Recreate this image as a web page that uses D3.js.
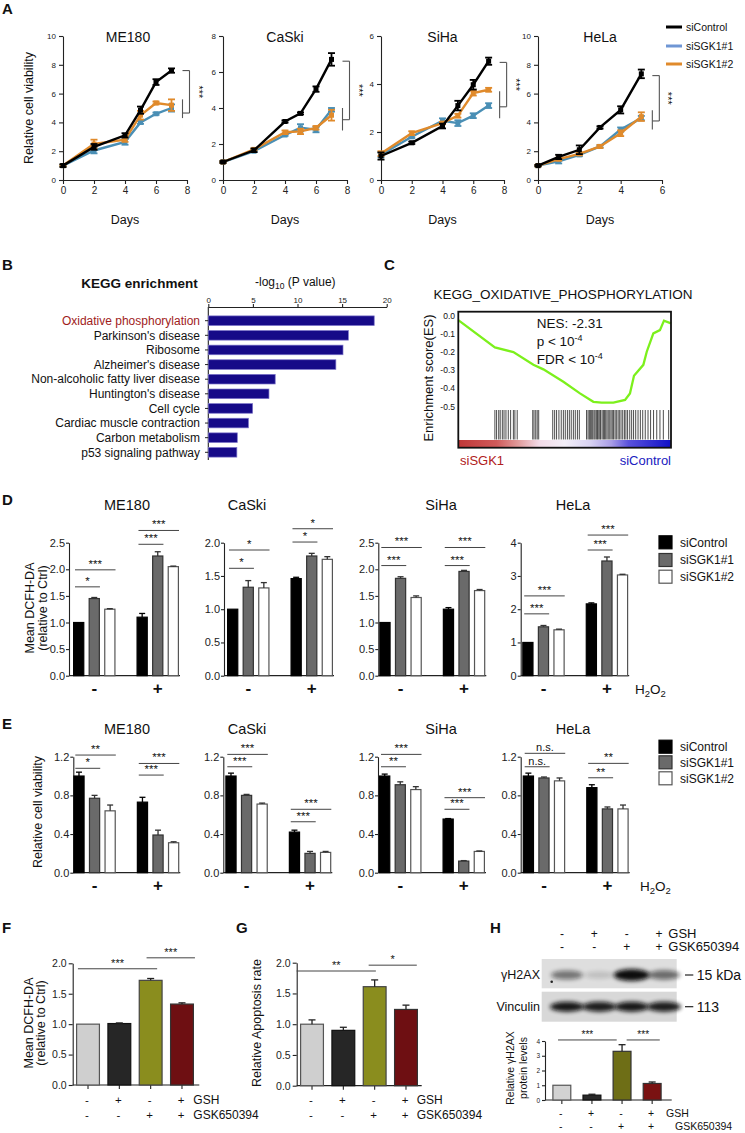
<!DOCTYPE html>
<html><head><meta charset="utf-8">
<script src="https://cdn.jsdelivr.net/npm/d3@7"></script>
<style>body{margin:0;background:#fff}svg{display:block}text{font-family:'Liberation Sans',Arial,Helvetica,sans-serif}</style>
</head><body><script>
// ================= DATA =================
// Panel A: growth curves (relative cell viability vs days)
const seriesNames=["siControl","siSGK1#1","siSGK1#2"];
const growthCells=["ME180","CaSki","SiHa","HeLa"];
const growthDays={ME180:[0,2,4,5,6,7],CaSki:[0,2,4,5,6,7],SiHa:[0,2,4,5,6,7],HeLa:[0,1,2,3,4,5]};
const growthCtrl={ME180:[1,2.3,3.1,4.85,6.8,7.6],CaSki:[1,1.65,3.25,3.7,5.05,6.7],SiHa:[1,1.55,2.25,3.1,3.97,4.95],HeLa:[1,1.6,2.1,3.65,4.87,7.37]};
const growthCtrlErr={ME180:[0.1,0.2,0.15,0.25,0.2,0.15],CaSki:[0.05,0.1,0.06,0.06,0.15,0.35],SiHa:[0.15,0.05,0.1,0.2,0.2,0.15],HeLa:[0.05,0.15,0.3,0.08,0.25,0.3]};
const growthS1={ME180:[1,2.05,2.65,4.0,4.6,5.0],CaSki:[1,1.6,2.5,2.9,2.8,3.9],SiHa:[1.05,1.8,2.47,2.37,2.68,3.1],HeLa:[1,1.3,1.75,2.33,3.5,4.3]};
const growthS1Err={ME180:[0.05,0.2,0.2,0.1,0.08,0.25],CaSki:[0.05,0.05,0.05,0.2,0.15,0.1],SiHa:[0.1,0.05,0.1,0.12,0.1,0.1],HeLa:[0.05,0.15,0.1,0.08,0.15,0.15]};
const growthS2={ME180:[1,2.5,2.8,4.5,5.35,5.2],CaSki:[1,1.7,2.65,2.7,2.9,3.6],SiHa:[1.1,1.95,2.37,2.68,3.62,3.76],HeLa:[1,1.45,1.82,2.33,3.25,4.4]};
const growthS2Err={ME180:[0.05,0.3,0.15,0.3,0.1,0.4],CaSki:[0.05,0.05,0.1,0.15,0.1,0.3],SiHa:[0.1,0.08,0.05,0.08,0.1,0.08],HeLa:[0.05,0.1,0.1,0.1,0.2,0.3]};
const growthXTicks={ME180:[0,2,4,6,8],CaSki:[0,2,4,6,8],SiHa:[0,2,4,6,8],HeLa:[0,2,4,6]};
const growthYTicks={ME180:[0,2,4,6,8,10],CaSki:[0,2,4,6,8],SiHa:[0,2,4,6],HeLa:[0,2,4,6,8,10]};
// significance brackets (value levels): outer [top,bottom], inner [top,bottom]
const growthBracket={ME180:{outer:[7.6,4.65],inner:[5.6,4.3]},CaSki:{outer:[6.6,3.35],inner:[4.0,2.75]},SiHa:{outer:[4.9,3.05],inner:[3.7,2.57]},HeLa:{outer:[7.25,4.1],inner:[4.85,3.5]}};

// Panel B: KEGG enrichment
const keggTerms=["Oxidative phosphorylation","Parkinson's disease","Ribosome","Alzheimer's disease","Non-alcoholic fatty liver disease","Huntington's disease","Cell cycle","Cardiac muscle contraction","Carbon metabolism","p53 signaling pathway"];
const keggLogP=[18.6,15.7,15.1,14.3,7.5,6.8,4.97,4.5,3.25,3.2];
const keggTicks=[0,5,10,15,20];

// Panel C: GSEA running enrichment score
const esRank=[0,0.172,0.259,0.353,0.4,0.494,0.572,0.635,0.674,0.729,0.784,0.807,0.826,0.87,0.886,0.917,0.948,0.967,1.0];
const esScore=[-0.024,-0.174,-0.2,-0.27,-0.295,-0.363,-0.427,-0.473,-0.478,-0.478,-0.463,-0.427,-0.33,-0.27,-0.198,-0.097,-0.079,-0.027,-0.042];
const esHits=[0.172,0.180,0.190,0.197,0.207,0.215,0.224,0.235,0.246,0.259,0.266,0.277,0.350,0.356,0.364,0.371,0.378,0.444,0.453,0.462,0.473,0.484,0.494,0.503,0.513,0.522,0.531,0.541,0.550,0.560,0.569,0.603,0.610,0.616,0.621,0.627,0.632,0.638,0.643,0.649,0.654,0.658,0.665,0.669,0.676,0.682,0.687,0.693,0.699,0.705,0.712,0.718,0.724,0.730,0.737,0.743,0.751,0.757,0.765,0.773,0.781,0.788,0.796,0.806,0.815,0.824,0.834,0.845,0.856,0.867,0.879,0.892,0.904,0.918,0.933,0.948,0.964,0.989];
const esTicks=[0,-0.1,-0.2,-0.3,-0.4,-0.5];

// Panel D: Mean DCFH-DA, [H2O2 -, H2O2 +] x [siControl, siSGK1#1, siSGK1#2]
const h2o2Groups=["-","+"];
const dcfhMean={ME180:[[1.00,1.45,1.25],[1.10,2.25,2.05]],CaSki:[[1.00,1.33,1.32],[1.46,1.80,1.75]],SiHa:[[1.00,1.83,1.47],[1.25,1.96,1.60]],HeLa:[[1.00,1.47,1.38],[2.16,3.45,3.03]]};
const dcfhErr={ME180:[[0,0.02,0.01],[0.07,0.08,0.01]],CaSki:[[0,0.10,0.08],[0.02,0.04,0.04]],SiHa:[[0,0.03,0.03],[0.03,0.02,0.02]],HeLa:[[0,0.04,0.02],[0.03,0.12,0.02]]};
const dcfhSig={ME180:[["-",1,1.67,"*"],["-",2,1.99,"***"],["+",1,2.47,"***"],["+",2,2.73,"***"]],CaSki:[["-",1,1.615,"*"],["-",2,1.89,"*"],["+",1,2.01,"*"],["+",2,2.21,"*"]],SiHa:[["-",1,2.07,"***"],["-",2,2.41,"***"],["+",1,2.07,"***"],["+",2,2.41,"***"]],HeLa:[["-",1,1.86,"***"],["-",2,2.40,"***"],["+",1,3.78,"***"],["+",2,4.23,"***"]]};
const dcfhYTicks={ME180:[0,0.5,1,1.5,2,2.5],CaSki:[0,0.5,1,1.5,2],SiHa:[0,0.5,1,1.5,2,2.5],HeLa:[0,1,2,3,4]};

// Panel E: relative cell viability
const viabMean={ME180:[[1.0,0.77,0.64],[0.73,0.39,0.31]],CaSki:[[1.0,0.80,0.71],[0.42,0.20,0.21]],SiHa:[[1.0,0.91,0.86],[0.555,0.12,0.22]],HeLa:[[1.0,0.98,0.95],[0.88,0.66,0.66]]};
const viabErr={ME180:[[0.04,0.03,0.06],[0.05,0.05,0.01]],CaSki:[[0.03,0.01,0.01],[0.02,0.02,0.01]],SiHa:[[0.02,0.03,0.03],[0.005,0.005,0.005]],HeLa:[[0.03,0.01,0.03],[0.03,0.02,0.04]]};
const viabSig={ME180:[["-",1,1.08,"*"],["-",2,1.217,"**"],["+",1,1.01,"***"],["+",2,1.13,"***"]],CaSki:[["-",1,1.096,"***"],["-",2,1.224,"***"],["+",1,0.527,"***"],["+",2,0.656,"***"]],SiHa:[["-",1,1.096,"**"],["-",2,1.224,"***"],["+",1,0.656,"***"],["+",2,0.776,"***"]],HeLa:[["-",1,1.096,"n.s."],["-",2,1.235,"n.s."],["+",1,0.982,"**"],["+",2,1.131,"**"]]};
const viabYTicks=[0,0.4,0.8,1.2];

// Panels F, G, H: GSH / GSK650394 treatments
const gshRow=["-","+","-","+"];
const gskRow=["-","-","+","+"];
const fDcfh=[1.0,1.01,1.72,1.33];
const fDcfhErr=[0,0.01,0.03,0.02];
const fSig=[[0,0.08,2,0.77,1.91,"***"],[2,0.33,3,1.04,2.09,"***"]];
const gApop=[1.0,0.9,1.61,1.24];
const gApopErr=[0.07,0.05,0.11,0.07];
const gSig=[[0,-0.14,2,0.55,1.865,"**"],[2,0.25,3,0.95,1.96,"*"]];
const hH2ax=[1.0,0.33,3.3,1.12];
const hH2axErr=[0,0.06,0.45,0.1];
const hSig=[[0,0.3,2,0.22,4.07,"***"],[2,0.74,3,0.9,4.07,"***"]];
const fgTicks=[0,0.5,1,1.5,2];
const hTicks=[0,1,2,3,4];
// western blot band intensities (relative darkness)
const blotH2ax=[0.5,0.15,1.0,0.55];
const blotVinc=[0.95,0.92,0.95,0.92];

// ================= DRAWING =================
const FONT="'Liberation Sans', Arial, Helvetica, sans-serif";
const svg=d3.select("body").append("svg").attr("width",745).attr("height",1133);
const defs=svg.append("defs");
const C_CTRL="#000",C_S1="#4a8fb5",C_S2="#e08a2b";

function txt(x,y,s,o={}){
  const t=svg.append("text").attr("x",x).attr("y",y).text(s)
    .attr("font-size",o.size||12).attr("fill",o.fill||"#111")
    .attr("text-anchor",o.anchor||"start").attr("font-family",FONT);
  if(o.weight)t.attr("font-weight",o.weight);
  if(o.rotate!=null)t.attr("transform",`rotate(${o.rotate},${x},${y})`);
  if(o.dy)t.attr("dy",o.dy);
  return t;
}
function axisStyle(g,fs){
  g.attr("font-size",fs).attr("font-family",FONT);
  g.selectAll(".domain,.tick line").attr("stroke","#222").attr("stroke-width",1.1);
  g.selectAll(".tick text").attr("fill","#222");
}
function line(x1,y1,x2,y2,c,w){
  return svg.append("line").attr("x1",x1).attr("y1",y1).attr("x2",x2).attr("y2",y2).attr("stroke",c||"#222").attr("stroke-width",w||1);
}

// Panel letters
[["A",2,14],["B",2,270],["C",384,270],["D",2,505],["E",2,729],["F",2,933],["G",236,933],["H",490,933]].forEach(d=>txt(d[1],d[2],d[0],{size:15,weight:"bold"}));

// ---------- Panel A ----------
const aLayout={ME180:[63,187,8,10],CaSki:[223,347,8,8],SiHa:[381,504,8,6],HeLa:[538,662,6,10]};
growthCells.forEach(cell=>{
  const [x0,x1,xMax,yMax]=aLayout[cell];
  const x=d3.scaleLinear().domain([0,xMax]).range([x0,x1]);
  const y=d3.scaleLinear().domain([0,yMax]).range([180,36]);
  const gx=svg.append("g").attr("transform","translate(0,180)")
    .call(d3.axisBottom(x).tickValues(growthXTicks[cell]).tickFormat(d3.format("d")).tickSize(4).tickSizeOuter(0).tickPadding(3));
  axisStyle(gx,10);
  const gy=svg.append("g").attr("transform",`translate(${x0},0)`)
    .call(d3.axisLeft(y).tickValues(growthYTicks[cell]).tickFormat(d3.format("d")).tickSize(4).tickSizeOuter(0).tickPadding(3));
  axisStyle(gy,8);
  const days=growthDays[cell];
  const series=[
    {v:growthS1[cell],e:growthS1Err[cell],c:C_S1},
    {v:growthS2[cell],e:growthS2Err[cell],c:C_S2},
    {v:growthCtrl[cell],e:growthCtrlErr[cell],c:C_CTRL}];
  series.forEach(s=>{
    const pts=days.map((d,i)=>({d,v:s.v[i],e:s.e[i]}));
    svg.append("path").datum(pts).attr("fill","none").attr("stroke",s.c).attr("stroke-width",2.4)
      .attr("d",d3.line().x(q=>x(q.d)).y(q=>y(q.v)));
    const eg=svg.append("g").attr("stroke",s.c).attr("stroke-width",1.8);
    pts.forEach(q=>{
      const cx=x(q.d);
      eg.append("line").attr("x1",cx).attr("x2",cx).attr("y1",y(q.v-q.e)).attr("y2",y(q.v+q.e));
      eg.append("line").attr("x1",cx-3.5).attr("x2",cx+3.5).attr("y1",y(q.v+q.e)).attr("y2",y(q.v+q.e));
      eg.append("line").attr("x1",cx-3.5).attr("x2",cx+3.5).attr("y1",y(q.v-q.e)).attr("y2",y(q.v-q.e));
      svg.append("rect").attr("x",cx-2.5).attr("y",y(q.v)-2.5).attr("width",5).attr("height",5).attr("fill",s.c);
    });
  });
  // bracket
  const br=growthBracket[cell];
  const xl=x(days[days.length-1]);
  const xo=xl+18,xi=xl+11;
  line(xi,y(br.outer[0]),xo,y(br.outer[0]),"#555",1.1);
  line(xo,y(br.outer[0]),xo,y(br.outer[1]),"#555",1.1);
  line(xi,y(br.outer[1]),xo,y(br.outer[1]),"#555",1.1);
  line(xi,y(br.inner[0]),xi,y(br.inner[1]),"#555",1.1);
  const ym=(y(br.outer[0])+y(br.outer[1]))/2;
  txt(xo+5,ym,"***",{size:11,anchor:"middle",rotate:90});
  txt((x0+x1)/2+(cell==="ME180"?3:0),42,cell,{size:14,anchor:"middle"});
  txt((x0+x1)/2,224,"Days",{size:12.5,anchor:"middle"});
});
txt(32.5,108,"Relative cell viability",{size:12.5,anchor:"middle",rotate:-90});
seriesNames.forEach((n,i)=>{
  const yy=[27,46,64][i];
  line(666,yy,682,yy,[C_CTRL,"#6f96d4",C_S2][i],3);
  txt(686,yy,n,{size:10.5,dy:"0.35em"});
});

// ---------- Panel B ----------
const xb=d3.scaleLinear().domain([0,20]).range([208.3,386.7]);
const yb=d3.scalePoint().domain(keggTerms).range([320.7,452.3]);
const gb=svg.append("g").attr("transform","translate(0,307)")
  .call(d3.axisTop(xb).tickValues(keggTicks).tickSize(3).tickSizeOuter(0).tickPadding(1));
axisStyle(gb,8);
line(208.3,307,208.3,460,"#222",1.1);
keggTerms.forEach((t,i)=>{
  const cy=yb(t);
  svg.append("rect").attr("x",xb(0)).attr("y",cy-4.8).attr("width",xb(keggLogP[i])-xb(0)).attr("height",9.6)
    .attr("fill","#160a88").attr("stroke","#7a72c8").attr("stroke-width",0.7);
  line(205,cy,208.3,cy,"#222",1);
  txt(200,cy,t,{size:12,anchor:"end",dy:"0.35em",fill:i===0?"#a01c1c":"#111"});
});
txt(139.5,287.5,"KEGG enrichment",{size:13.5,weight:"bold",anchor:"middle"});
{
  const t=txt(255,286,"-log",{size:12});
  t.append("tspan").attr("font-size",8.5).attr("dy",3).text("10");
  t.append("tspan").attr("dy",-3).text(" (P value)");
}

// ---------- Panel C ----------
const xc=d3.scaleLinear().domain([0,1]).range([458.3,671]);
const yc=d3.scaleLinear().domain([-0.5,0]).range([406.7,315.7]);
const grad=defs.append("linearGradient").attr("id","heat");
[[0,"#c03838"],[0.18,"#cf5a5a"],[0.28,"#e09a9a"],[0.38,"#f3dbe8"],[0.5,"#f3eff8"],[0.62,"#d8d2f2"],[0.72,"#a89ce6"],[0.8,"#5a52dc"],[1,"#1010c8"]]
  .forEach(s=>grad.append("stop").attr("offset",s[0]).attr("stop-color",s[1]));
svg.append("rect").attr("x",xc(0)).attr("y",440).attr("width",xc(1)-xc(0)).attr("height",7.7).attr("fill","url(#heat)");
esHits.forEach(h=>line(xc(h),410,xc(h),439.5,"#000",1).attr("stroke-opacity",0.7));
svg.append("path").datum(esRank.map((r,i)=>[r,esScore[i]])).attr("fill","none").attr("stroke","#7cf01c").attr("stroke-width",2.3)
  .attr("d",d3.line().x(d=>xc(d[0])).y(d=>yc(d[1])));
svg.append("rect").attr("x",458.3).attr("y",311.7).attr("width",671-458.3).attr("height",447.7-311.7).attr("fill","none").attr("stroke","#111").attr("stroke-width",1.8);
esTicks.forEach(t=>txt(455,yc(t),d3.format(".1f")(t).replace("−","-"),{size:8.5,anchor:"end",dy:"0.35em"}));
txt(563,299,"KEGG_OXIDATIVE_PHOSPHORYLATION",{size:13.5,anchor:"middle"});
txt(432.5,378,"Enrichment score(ES)",{size:13,anchor:"middle",rotate:-90});
txt(536.7,328,"NES: -2.31",{size:13.5});
{
  const t1=txt(536.7,346,"p < 10",{size:13.5});
  t1.append("tspan").attr("font-size",9).attr("dy",-5).text("-4");
  const t2=txt(536.7,363.5,"FDR < 10",{size:13.5});
  t2.append("tspan").attr("font-size",9).attr("dy",-5).text("-4");
}
txt(460,465,"siSGK1",{size:13,fill:"#b02020"});
txt(671,465,"siControl",{size:13,fill:"#2020c0",anchor:"end"});

// ---------- Panels D & E ----------
const barFill=["#000","#6a6a6a","#fff"],barStroke=["#000","#333","#555"];
function groupPanel(cfg){
  const y=d3.scaleLinear().domain([0,cfg.yMax]).range([cfg.yb,cfg.yt]);
  const x0=d3.scaleBand().domain(h2o2Groups).range([cfg.ax+cfg.off,cfg.ax+cfg.off+106]).paddingInner(0.33);
  const x1=d3.scaleBand().domain([0,1,2]).range([0,x0.bandwidth()]).paddingInner(0.27);
  const bw=x1.bandwidth();
  const gy=svg.append("g").attr("transform",`translate(${cfg.ax},0)`)
    .call(d3.axisLeft(y).tickValues(cfg.ticks).tickFormat(d3.format(cfg.fmt)).tickSize(3).tickSizeOuter(0).tickPadding(1));
  axisStyle(gy,11);
  line(cfg.ax,cfg.yb,cfg.ax+cfg.off+107,cfg.yb,"#222",1.2);
  h2o2Groups.forEach((g,gi)=>{
    cfg.means[gi].forEach((v,si)=>{
      const bx=x0(g)+x1(si),e=cfg.errs[gi][si];
      svg.append("rect").attr("x",bx+0.6).attr("y",y(v)).attr("width",bw-1.2).attr("height",cfg.yb-y(v))
        .attr("fill",barFill[si]).attr("stroke",barStroke[si]).attr("stroke-width",1.2);
      if(e>0){
        const c=si===0?"#000":"#333";
        line(bx+bw/2,y(v),bx+bw/2,y(v+e),c,1.3);
        line(bx+bw/2-3,y(v+e),bx+bw/2+3,y(v+e),c,1.3);
      }
    });
    txt(x0(g)+x0.bandwidth()/2,cfg.dashY,g,{size:17,weight:"bold",anchor:"middle"});
  });
  cfg.sig.forEach(s=>{
    const [g,t,lvl,lab]=s;
    const xa=x0(g)+x1(0)+2,xb2=x0(g)+x1(t)+bw;
    line(xa,y(lvl),xb2,y(lvl),"#444",1);
    txt((xa+xb2)/2,y(lvl)-2,lab,{size:lab==="n.s."?11:11.5,anchor:"middle"});
  });
  txt(cfg.titleX,cfg.titleY,cfg.title,{size:14.5,anchor:"middle"});
}
const dLayout={ME180:[69,4,2.5],CaSki:[224,3,2],SiHa:[378.3,1,2.5],HeLa:[520.7,1.5,4]};
const eLayout={ME180:[73.3,0],CaSki:[223.3,2],SiHa:[378,1],HeLa:[520.7,2]};
const titleXs={ME180:127,CaSki:247,SiHa:441,HeLa:573};
growthCells.forEach(cell=>{
  const [ax,off,ymax]=dLayout[cell];
  groupPanel({ax,off,yMax:ymax,yb:675.7,yt:542.7,ticks:dcfhYTicks[cell],fmt:cell==="HeLa"?"d":".1f",
    means:dcfhMean[cell],errs:dcfhErr[cell],sig:dcfhSig[cell],title:cell,titleX:titleXs[cell],titleY:510,dashY:694});
  const [ax2,off2]=eLayout[cell];
  groupPanel({ax:ax2,off:off2,yMax:1.2,yb:872.7,yt:756.7,ticks:viabYTicks,fmt:".1f",
    means:viabMean[cell],errs:viabErr[cell],sig:viabSig[cell],title:cell,titleX:titleXs[cell],titleY:734,dashY:891});
});
txt(34,608,"Mean DCFH-DA",{size:12.5,anchor:"middle",rotate:-90});
txt(47,608,"(relative to Ctrl)",{size:12.5,anchor:"middle",rotate:-90});
txt(41.5,812,"Relative cell viability",{size:12.5,anchor:"middle",rotate:-90});
function legendBox(ys){
  seriesNames.forEach((n,i)=>{
    svg.append("rect").attr("x",659).attr("y",ys[i]-6.5).attr("width",13).attr("height",13)
      .attr("fill",barFill[i]).attr("stroke",barStroke[i]).attr("stroke-width",1.2);
    txt(680,ys[i],n,{size:12,dy:"0.35em"});
  });
}
legendBox([542.3,560,576.7]);
legendBox([746.7,762.3,778.3]);
function h2o2(x,y){
  const t=txt(x,y,"H",{size:13.5});
  t.append("tspan").attr("font-size",9.5).attr("dy",3).text("2");
  t.append("tspan").attr("dy",-3).text("O");
  t.append("tspan").attr("font-size",9.5).attr("dy",3).text("2");
}
h2o2(635,694);
h2o2(640,891);

// ---------- Panels F, G, H ----------
function condPanel(cfg){
  const y=d3.scaleLinear().domain([0,cfg.yMax]).range([cfg.yb,cfg.yt]);
  const x=d3.scaleBand().domain(d3.range(4)).range([cfg.bx0,cfg.bx1]).paddingInner(cfg.pad);
  const bw=x.bandwidth();
  const gy=svg.append("g").attr("transform",`translate(${cfg.ax},0)`)
    .call(d3.axisLeft(y).tickValues(cfg.ticks).tickFormat(d3.format(cfg.fmt)).tickSize(cfg.tick).tickSizeOuter(0).tickPadding(2));
  axisStyle(gy,cfg.tfs);
  line(cfg.ax,cfg.yb,cfg.axEnd,cfg.yb,"#222",1.2);
  cfg.vals.forEach((v,i)=>{
    const bx=x(i),e=cfg.errs[i];
    line(bx+bw/2,cfg.yb,bx+bw/2,cfg.yb+4,"#222",1.1);
    svg.append("rect").attr("x",bx+0.6).attr("y",y(v)).attr("width",bw-1.2).attr("height",cfg.yb-y(v))
      .attr("fill",cfg.fills[i]).attr("stroke",cfg.strokes[i]).attr("stroke-width",1.2);
    if(e>0){
      line(bx+bw/2,y(v),bx+bw/2,y(v+e),"#222",1.3);
      line(bx+bw/2-3.5,y(v+e),bx+bw/2+3.5,y(v+e),"#222",1.3);
    }
    txt(bx+bw/2-1,cfg.row1,gshRow[i],{size:cfg.rfs,anchor:"middle"});
    txt(bx+bw/2-1,cfg.row2,gskRow[i],{size:cfg.rfs,anchor:"middle"});
  });
  txt(cfg.gshX,cfg.row1,"GSH",{size:cfg.lfs});
  txt(cfg.gskX,cfg.row2,"GSK650394",{size:cfg.lfs});
  cfg.sig.forEach(s=>{
    const [i,fi,j,fj,lvl,lab]=s;
    const xa=x(i)+fi*bw,xb2=x(j)+fj*bw;
    line(xa,y(lvl),xb2,y(lvl),"#444",1);
    txt((xa+xb2)/2,y(lvl)-2,lab,{size:cfg.sfs,anchor:"middle"});
  });
}
const fgFills=["#cfcfcf","#262626","#8a8d1e","#6e0f12"],fgStrokes=["#555","#111","#444","#333"];
condPanel({yMax:2,yb:1085,yt:963.3,ax:72.7,axEnd:199.3,bx0:76,bx1:194,pad:0.233,ticks:fgTicks,fmt:".1f",tick:4,tfs:10.5,
  vals:fDcfh,errs:fDcfhErr,sig:fSig,fills:fgFills,strokes:fgStrokes,row1:1104,row2:1119,rfs:11.5,lfs:12,gshX:193.3,gskX:193.3,sfs:11});
condPanel({yMax:2,yb:1085.7,yt:962.7,ax:296.7,axEnd:421.7,bx0:300,bx1:418,pad:0.233,ticks:fgTicks,fmt:".1f",tick:4,tfs:10.5,
  vals:gApop,errs:gApopErr,sig:gSig,fills:fgFills,strokes:fgStrokes,row1:1104,row2:1119,rfs:11.5,lfs:12,gshX:416.7,gskX:416.7,sfs:11});
condPanel({yMax:4,yb:1100,yt:1041,ax:545,axEnd:671.7,bx0:552.3,bx1:661.7,pad:0.366,ticks:hTicks,fmt:"d",tick:3,tfs:6.5,
  vals:hH2ax,errs:hH2axErr,sig:hSig,fills:["#d2d2d2","#2a2a2a","#6e6e16","#7a1212"],strokes:["#555","#111","#333","#333"],
  row1:1117,row2:1129.5,rfs:10.5,lfs:10.5,gshX:666,gskX:675,sfs:10});
txt(32.5,1023,"Mean DCFH-DA",{size:12.5,anchor:"middle",rotate:-90});
txt(44.5,1023,"(relative to Ctrl)",{size:12.5,anchor:"middle",rotate:-90});
txt(261,1023,"Relative Apoptosis rate",{size:12.5,anchor:"middle",rotate:-90});
txt(514,1068,"Relative γH2AX",{size:10.5,anchor:"middle",rotate:-90});
txt(527,1068,"protein levels",{size:10.5,anchor:"middle",rotate:-90});

// H blot
const lanes=d3.scalePoint().domain(d3.range(4)).range([567,664]);
defs.append("filter").attr("id","blur").attr("x","-50%").attr("y","-100%").attr("width","200%").attr("height","300%")
  .append("feGaussianBlur").attr("stdDeviation",2.2);
svg.append("rect").attr("x",541.7).attr("y",959).attr("width",135).attr("height",29.3).attr("fill","#dedede");
svg.append("rect").attr("x",541.7).attr("y",991.7).attr("width",135).attr("height",30).attr("fill","#d8d8d8");
blotH2ax.forEach((v,i)=>{
  svg.append("ellipse").attr("cx",lanes(i)).attr("cy",975).attr("rx",14+4*v).attr("ry",3+3*v)
    .attr("fill","#0a0a0a").attr("opacity",v).attr("filter","url(#blur)");
});
blotVinc.forEach((v,i)=>{
  svg.append("ellipse").attr("cx",lanes(i)).attr("cy",1006.7).attr("rx",17).attr("ry",5)
    .attr("fill","#0a0a0a").attr("opacity",v).attr("filter","url(#blur)");
});
svg.append("circle").attr("cx",551.7).attr("cy",981.7).attr("r",1.3).attr("fill","#222");
txt(540,975,"γH2AX",{size:12.5,anchor:"end",dy:"0.35em"});
txt(540,1006.7,"Vinculin",{size:12.5,anchor:"end",dy:"0.35em"});
line(685,975,693.3,975,"#222",1.2);
line(685,1006.7,693.3,1006.7,"#222",1.2);
txt(696.7,975,"15 kDa",{size:14,dy:"0.35em"});
txt(696.7,1006.7,"113",{size:14,dy:"0.35em"});
gshRow.forEach((s,i)=>{
  txt(lanes(i)-5,938,s,{size:12,anchor:"middle"});
  txt(lanes(i)-5,951,gskRow[i],{size:12,anchor:"middle"});
});
txt(668.3,938,"GSH",{size:13});
txt(668.3,951,"GSK650394",{size:13});
</script></body></html>
